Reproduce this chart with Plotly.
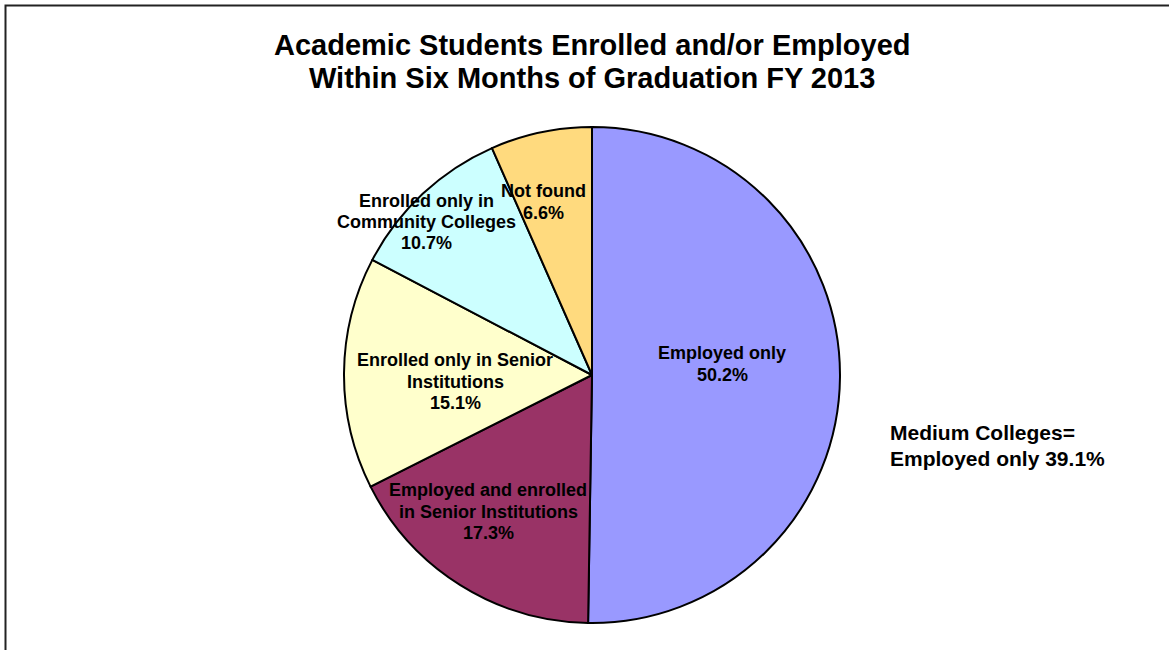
import plotly.graph_objects as go

categories = ["Employed only", "Employed and enrolled in Senior Institutions",
              "Enrolled only in Senior Institutions", "Enrolled only in Community Colleges",
              "Not found"]
values = [50.2, 17.3, 15.1, 10.7, 6.6]
label_lines = [["Employed only", "50.2%"],
               ["Employed and enrolled", "in Senior Institutions", "17.3%"],
               ["Enrolled only in Senior", "Institutions", "15.1%"],
               ["Enrolled only in", "Community Colleges", "10.7%"],
               ["Not found", "6.6%"]]
colors = ["#9999FF", "#993366", "#FFFFCC", "#CCFFFF", "#FFDA7E"]

W, H = 1169, 650
# label centers in pixels (layout, not data)
label_pos = [(722, 364), (488, 511.5), (455, 381.5), (426, 222), (543, 202)]

fig = go.Figure(go.Pie(
    labels=categories, values=values, sort=False, direction="clockwise", rotation=0,
    marker=dict(colors=colors, line=dict(color="black", width=2)),
    textinfo="none", hoverinfo="label+percent", showlegend=False,
    domain=dict(x=[344 / W, 840 / W], y=[1 - 623 / H, 1 - 127 / H]),
))

FAM = "Liberation Sans, Arial, sans-serif"


def add_lines(lines, cx, cy, spacing, size, anchor="center"):
    n = len(lines)
    for i, line in enumerate(lines):
        py = cy + (i - (n - 1) / 2) * spacing
        fig.add_annotation(x=cx / W, y=1 - py / H, xref="paper", yref="paper",
                           text="<b>" + line + "</b>", showarrow=False,
                           font=dict(size=size, family=FAM, color="black"),
                           xanchor=anchor, yanchor="middle")


for lines, (px, py) in zip(label_lines, label_pos):
    add_lines(lines, px, py, 21.5, 18)

add_lines(["Medium Colleges=", "Employed only 39.1%"], 888, 445, 26, 21, anchor="left")
add_lines(["Academic Students Enrolled and/or Employed",
           "Within Six Months of Graduation FY 2013"], 592, 61.5, 33, 29)

fig.add_shape(type="rect", xref="paper", yref="paper", x0=5.5 / W, x1=1.05, y0=-0.05, y1=1 - 5.5 / H,
              line=dict(color="#222222", width=2), fillcolor="rgba(0,0,0,0)")

fig.update_layout(width=W, height=H, margin=dict(l=0, r=0, t=0, b=0),
                  paper_bgcolor="white", plot_bgcolor="white")
fig.write_html("out.html")
